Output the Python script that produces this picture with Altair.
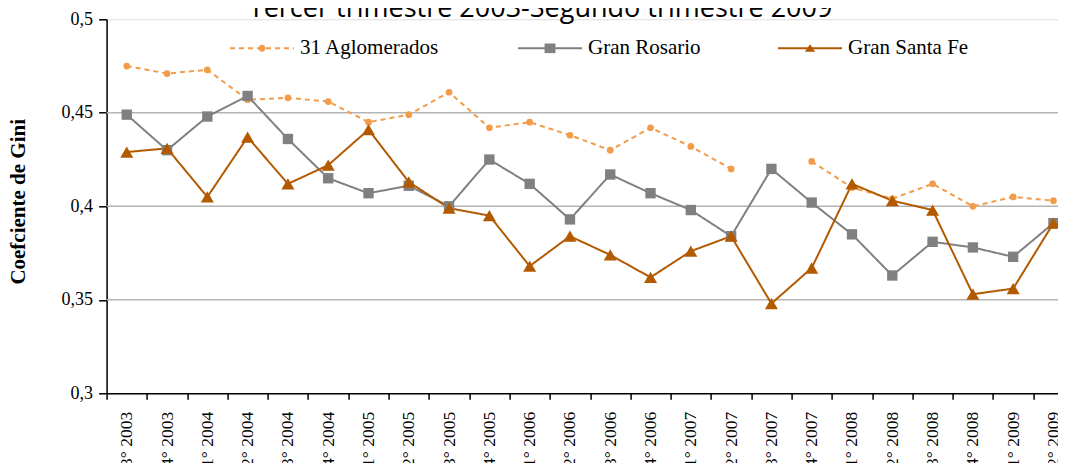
import altair as alt
import pandas as pd

CATEGORIES = ["3° 2003", "4° 2003", "1° 2004", "2° 2004", "3° 2004", "4° 2004",
              "1° 2005", "2° 2005", "3° 2005", "4° 2005", "1° 2006", "2° 2006",
              "3° 2006", "4° 2006", "1° 2007", "2° 2007", "3° 2007", "4° 2007",
              "1° 2008", "2° 2008", "3° 2008", "4° 2008", "1° 2009", "2° 2009"]

AGLOMERADOS = [0.475, 0.471, 0.473, 0.457, 0.458, 0.456, 0.445, 0.449, 0.461, 0.442,
               0.445, 0.438, 0.430, 0.442, 0.432, 0.420, None, 0.424, 0.410, 0.404,
               0.412, 0.400, 0.405, 0.403]
ROSARIO = [0.449, 0.430, 0.448, 0.459, 0.436, 0.415, 0.407, 0.411, 0.400, 0.425,
           0.412, 0.393, 0.417, 0.407, 0.398, 0.384, 0.420, 0.402, 0.385, 0.363,
           0.381, 0.378, 0.373, 0.391]
SANTA_FE = [0.429, 0.431, 0.405, 0.437, 0.412, 0.422, 0.441, 0.413, 0.399, 0.395,
            0.368, 0.384, 0.374, 0.362, 0.376, 0.384, 0.348, 0.367, 0.412, 0.403,
            0.398, 0.353, 0.356, 0.391]

SERIES = ["31 Aglomerados", "Gran Rosario", "Gran Santa Fe"]
COLORS = ["#F29C4A", "#808080", "#B35A00"]
SHAPES = ["circle", "square", "triangle-up"]
SIZES = [45, 170, 130]
DASHES = [[5, 4], [1, 0], [1, 0]]
LEGEND_MARKERS = [
    "M-0.11,0A0.11,0.11,0,1,1,0.11,0A0.11,0.11,0,1,1,-0.11,0Z",
    "M-0.17,-0.15L0.17,-0.15L0.17,0.15L-0.17,0.15Z",
    "M0,-0.13L0.16,0.11L-0.16,0.11Z",
]
LEGEND_X = [122.4, 410.4, 670.4]
Y_TICKS = [0.3, 0.35, 0.4, 0.45, 0.5]
GRID_LINES = [0.35, 0.4, 0.45]
TITLE = "Tercer trimestre 2003-Segundo trimestre 2009"
Y_TITLE = "Coefciente de Gini"

rows = []
for name, vals in zip(SERIES, [AGLOMERADOS, ROSARIO, SANTA_FE]):
    seg = 0
    for cat, v in zip(CATEGORIES, vals):
        if v is None:
            seg += 1
            continue
        rows.append({"periodo": cat, "serie": name, "gini": v, "tramo": f"{name}-{seg}"})
df = pd.DataFrame(rows)

x_enc = alt.X("periodo:N",
              scale=alt.Scale(type="band", domain=CATEGORIES, paddingInner=0, paddingOuter=0),
              axis=alt.Axis(title=None, labelAngle=270, labelFont="Liberation Serif",
                            labelFontSize=17.5, labelColor="black", tickBand="extent",
                            tickSize=6, tickColor="black", tickWidth=1.5,
                            domainColor="black", domainWidth=1.5, labelPadding=12,
                            grid=False))
y_scale = alt.Scale(domain=[0.3, 0.5], nice=False, zero=False)
y_axis = alt.Axis(values=Y_TICKS,
                  labelExpr="replace(format(datum.value, '.2~f'), '.', ',')",
                  title=Y_TITLE, titleFont="Liberation Serif", titleFontSize=21,
                  titleFontWeight="bold", titleColor="black", titleX=-88, titleY=182,
                  titleAngle=270, titleAlign="center", titleBaseline="middle",
                  labelFont="Liberation Serif", labelFontSize=18, labelColor="black",
                  tickSize=8, tickColor="black", tickWidth=1.5, labelPadding=6,
                  domainColor="black", domainWidth=1.5, grid=False)
y_enc = alt.Y("gini:Q", scale=y_scale, axis=y_axis)
color_scale = alt.Scale(domain=SERIES, range=COLORS)

grid = alt.Chart(pd.DataFrame({"gini": GRID_LINES})).mark_rule(
    color="#B4B4B4", strokeWidth=1.5).encode(y=y_enc)

lines = alt.Chart(df).mark_line(strokeWidth=2).encode(
    x=x_enc, y=y_enc,
    color=alt.Color("serie:N", scale=color_scale, legend=None),
    strokeDash=alt.StrokeDash("serie:N", scale=alt.Scale(domain=SERIES, range=DASHES), legend=None),
    detail="tramo:N",
)

points = alt.Chart(df).mark_point(filled=True, opacity=1).encode(
    x=x_enc, y=y_enc,
    color=alt.Color("serie:N", scale=color_scale, legend=None),
    shape=alt.Shape("serie:N", scale=alt.Scale(domain=SERIES, range=SHAPES), legend=None),
    size=alt.Size("serie:N", scale=alt.Scale(domain=SERIES, range=SIZES), legend=None),
)

legend_common = dict(title=None, orient="none", legendY=-4, symbolSize=4096,
                     symbolStrokeWidth=2, labelFont="Liberation Serif", labelFontSize=21,
                     labelColor="black", labelOffset=5, padding=0, labelLimit=300)

legend_layers = []
for name, col, dash, marker, lx in zip(SERIES, COLORS, DASHES, LEGEND_MARKERS, LEGEND_X):
    legend_layers.append(
        alt.Chart(df).transform_filter("false").mark_line(color=col, strokeWidth=2).encode(
            strokeDash=alt.StrokeDash(
                "serie:N", scale=alt.Scale(domain=[name], range=[dash]),
                legend=alt.Legend(legendX=lx, symbolType="stroke", symbolStrokeColor=col,
                                  symbolOpacity=1, **legend_common))
        )
    )
    legend_layers.append(
        alt.Chart(df).transform_filter("false").mark_point(
            filled=True, color=col, opacity=1
        ).encode(
            shape=alt.Shape(
                "serie:N", scale=alt.Scale(domain=[name], range=[marker]),
                legend=alt.Legend(legendX=lx, symbolFillColor=col, symbolOpacity=1,
                                  labelOpacity=0, **legend_common))
        )
    )

title_layer = alt.Chart(pd.DataFrame({"t": [TITLE]})).mark_text(
    font="Open Sans", fontSize=27, align="center", baseline="alphabetic", color="black"
).encode(x=alt.value(434), y=alt.value(-2), text="t:N")

chart = alt.layer(grid, lines, points, *legend_layers, title_layer).resolve_scale(
    shape="independent", strokeDash="independent"
).properties(
    width=967, height=374,
    padding={"left": 98.6, "right": -15.6, "top": 11.3, "bottom": 69.7},
    autosize=alt.AutoSizeParams(type="none"),
).configure_view(stroke=None).configure(background="white")

chart.save("out.html", embed_options={"renderer": "svg", "actions": False})
